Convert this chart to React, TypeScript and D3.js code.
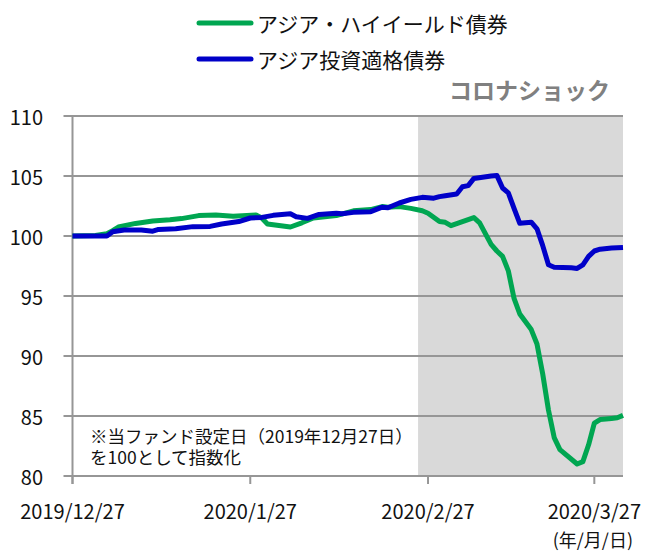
import * as d3 from "d3";

// Asia high yield vs investment grade, indexed to 100 at fund start
const hyDates = [
  "2019-12-27", "2019-12-31", "2020-01-02", "2020-01-03", "2020-01-04", "2020-01-07",
  "2020-01-10", "2020-01-13", "2020-01-15", "2020-01-18", "2020-01-21", "2020-01-24",
  "2020-01-28", "2020-01-29", "2020-01-30", "2020-02-03", "2020-02-05", "2020-02-07",
  "2020-02-09", "2020-02-11", "2020-02-14", "2020-02-17", "2020-02-19", "2020-02-20",
  "2020-02-22", "2020-02-24", "2020-02-26", "2020-02-27", "2020-02-29", "2020-03-01",
  "2020-03-02", "2020-03-04", "2020-03-06", "2020-03-07", "2020-03-08", "2020-03-09",
  "2020-03-10", "2020-03-11", "2020-03-12", "2020-03-13", "2020-03-14", "2020-03-16",
  "2020-03-17", "2020-03-18", "2020-03-19", "2020-03-20", "2020-03-21", "2020-03-24",
  "2020-03-25", "2020-03-26", "2020-03-27", "2020-03-28", "2020-03-30", "2020-03-31",
  "2020-04-01",
];
const hyValues = [
  100.0, 100.05, 100.2, 100.45, 100.75, 101.05,
  101.25, 101.35, 101.45, 101.7, 101.75, 101.65,
  101.75, 101.5, 101.0, 100.75, 101.1, 101.5,
  101.6, 101.7, 102.1, 102.2, 102.45, 102.4,
  102.45, 102.3, 102.1, 101.9, 101.2, 101.14,
  100.86, 101.2, 101.53, 101.1, 100.2, 99.3,
  98.75, 98.3, 97.1, 94.8, 93.5, 92.2,
  91.0, 88.5, 85.5, 83.2, 82.2, 81.0,
  81.2, 82.6, 84.4, 84.7, 84.8, 84.85,
  85.05,
];

const igDates = [
  "2019-12-27", "2020-01-02", "2020-01-03", "2020-01-05", "2020-01-08", "2020-01-10",
  "2020-01-11", "2020-01-14", "2020-01-17", "2020-01-20", "2020-01-22", "2020-01-25",
  "2020-01-27", "2020-01-29", "2020-01-31", "2020-02-03", "2020-02-04", "2020-02-06",
  "2020-02-08", "2020-02-11", "2020-02-12", "2020-02-14", "2020-02-17", "2020-02-19",
  "2020-02-20", "2020-02-22", "2020-02-24", "2020-02-26", "2020-02-28", "2020-02-29",
  "2020-03-01", "2020-03-03", "2020-03-04", "2020-03-05", "2020-03-06", "2020-03-09",
  "2020-03-10", "2020-03-11", "2020-03-12", "2020-03-13", "2020-03-14", "2020-03-16",
  "2020-03-17", "2020-03-18", "2020-03-19", "2020-03-20", "2020-03-23", "2020-03-24",
  "2020-03-25", "2020-03-26", "2020-03-27", "2020-03-28", "2020-03-30", "2020-04-01",
];
const igValues = [
  100.0, 100.0, 100.35, 100.5, 100.5, 100.4,
  100.55, 100.6, 100.78, 100.8, 101.0, 101.2,
  101.5, 101.55, 101.72, 101.85, 101.6, 101.47,
  101.8, 101.9, 101.85, 101.97, 102.03, 102.4,
  102.35, 102.75, 103.05, 103.22, 103.15, 103.28,
  103.36, 103.5, 104.1, 104.2, 104.8, 105.0,
  105.05, 104.0, 103.6, 102.3, 101.06, 101.15,
  100.6, 99.2, 97.6, 97.4, 97.35, 97.3,
  97.6, 98.3, 98.75, 98.9, 99.0, 99.05,
];

const yTicks = [80, 85, 90, 95, 100, 105, 110];
const xTickDates = ["2019-12-27", "2020-01-27", "2020-02-27", "2020-03-27"];
const xTickLabels = ["2019/12/27", "2020/1/27", "2020/2/27", "2020/3/27"];
const domainDates = ["2019-12-27", "2020-04-01"];
const shockDates = ["2020-02-25", "2020-04-01"];

const seriesNames = ["アジア・ハイイールド債券", "アジア投資適格債券"];
const seriesColors = ["#00a651", "#0000c8"];
const noteLines = ["※当ファンド設定日（2019年12月27日）", "を100として指数化"];

const parse = d3.timeParse("%Y-%m-%d");
const FONT = "'Noto Sans CJK JP', 'Noto Sans', sans-serif";

export default function App() {
  const width = 646;
  const height = 552;
  const plot = { left: 72.5, right: 623, top: 116, bottom: 476 };

  const x = d3
    .scaleTime()
    .domain(domainDates.map((d) => parse(d) as Date))
    .range([plot.left, plot.right]);
  const y = d3.scaleLinear().domain([80, 110]).range([plot.bottom, plot.top]);

  const line = d3
    .line<[Date, number]>()
    .x((d) => x(d[0]))
    .y((d) => y(d[1]));

  const series = [
    hyDates.map((d, i) => [parse(d) as Date, hyValues[i]] as [Date, number]),
    igDates.map((d, i) => [parse(d) as Date, igValues[i]] as [Date, number]),
  ];

  const shockX0 = x(parse(shockDates[0]) as Date) + 1.5;
  const shockX1 = x(parse(shockDates[1]) as Date);

  return (
    <div style={{ position: "absolute", left: 0, top: 0 }}>
      <svg width={width} height={height} style={{ display: "block", fontFamily: FONT }}>
        <rect width={width} height={height} fill="#fff" />

        {/* Corona shock period */}
        <rect
          x={shockX0}
          y={plot.top}
          width={shockX1 - shockX0}
          height={plot.bottom - plot.top}
          fill="#d9d9d9"
        />

        {/* Gridlines + y labels */}
        {yTicks.map((t) => (
          <g key={t}>
            <line
              x1={plot.left - 9}
              x2={plot.right}
              y1={y(t)}
              y2={y(t)}
              stroke="#969696"
              strokeWidth={2}
            />
            <text
              x={43}
              y={y(t)}
              textAnchor="end"
              dominantBaseline="central"
              fontSize={20}
              fill="#111"
            >
              {t}
            </text>
          </g>
        ))}

        {/* y axis */}
        <line
          x1={plot.left}
          x2={plot.left}
          y1={plot.top}
          y2={plot.bottom + 8}
          stroke="#969696"
          strokeWidth={2}
        />

        {/* x ticks */}
        {xTickDates.map((d, i) => {
          const tx = x(parse(d) as Date);
          return (
            <g key={d}>
              <line x1={tx} x2={tx} y1={plot.bottom} y2={plot.bottom + 8} stroke="#969696" strokeWidth={2} />
              <text
                x={tx}
                y={510}
                textAnchor="middle"
                dominantBaseline="central"
                fontSize={20}
                fill="#111"
              >
                {xTickLabels[i]}
              </text>
            </g>
          );
        })}
        <text x={633} y={539} textAnchor="end" dominantBaseline="central" fontSize={18} fill="#111">
          (年/月/日)
        </text>

        {/* Series lines */}
        {series.map((s, i) => (
          <path
            key={seriesNames[i]}
            d={line(s) ?? ""}
            fill="none"
            stroke={seriesColors[i]}
            strokeWidth={5}
            strokeLinejoin="round"
          />
        ))}

        {/* Note */}
        {noteLines.map((t, i) => (
          <text key={t} x={90} y={435 + i * 21} dominantBaseline="central" fontSize={17.5} fill="#111">
            {t}
          </text>
        ))}

        {/* Legend */}
        {seriesNames.map((name, i) => {
          const ly = 23 + i * 36;
          return (
            <g key={name}>
              <line
                x1={199}
                x2={251}
                y1={ly}
                y2={ly}
                stroke={seriesColors[i]}
                strokeWidth={5}
                strokeLinecap="round"
              />
              <text x={257} y={ly} dominantBaseline="central" fontSize={21} fill="#111">
                {name}
              </text>
            </g>
          );
        })}

        <text
          x={610}
          y={89}
          textAnchor="end"
          dominantBaseline="central"
          fontSize={23}
          fontWeight="bold"
          fill="#808080"
        >
          コロナショック
        </text>
      </svg>
    </div>
  );
}
